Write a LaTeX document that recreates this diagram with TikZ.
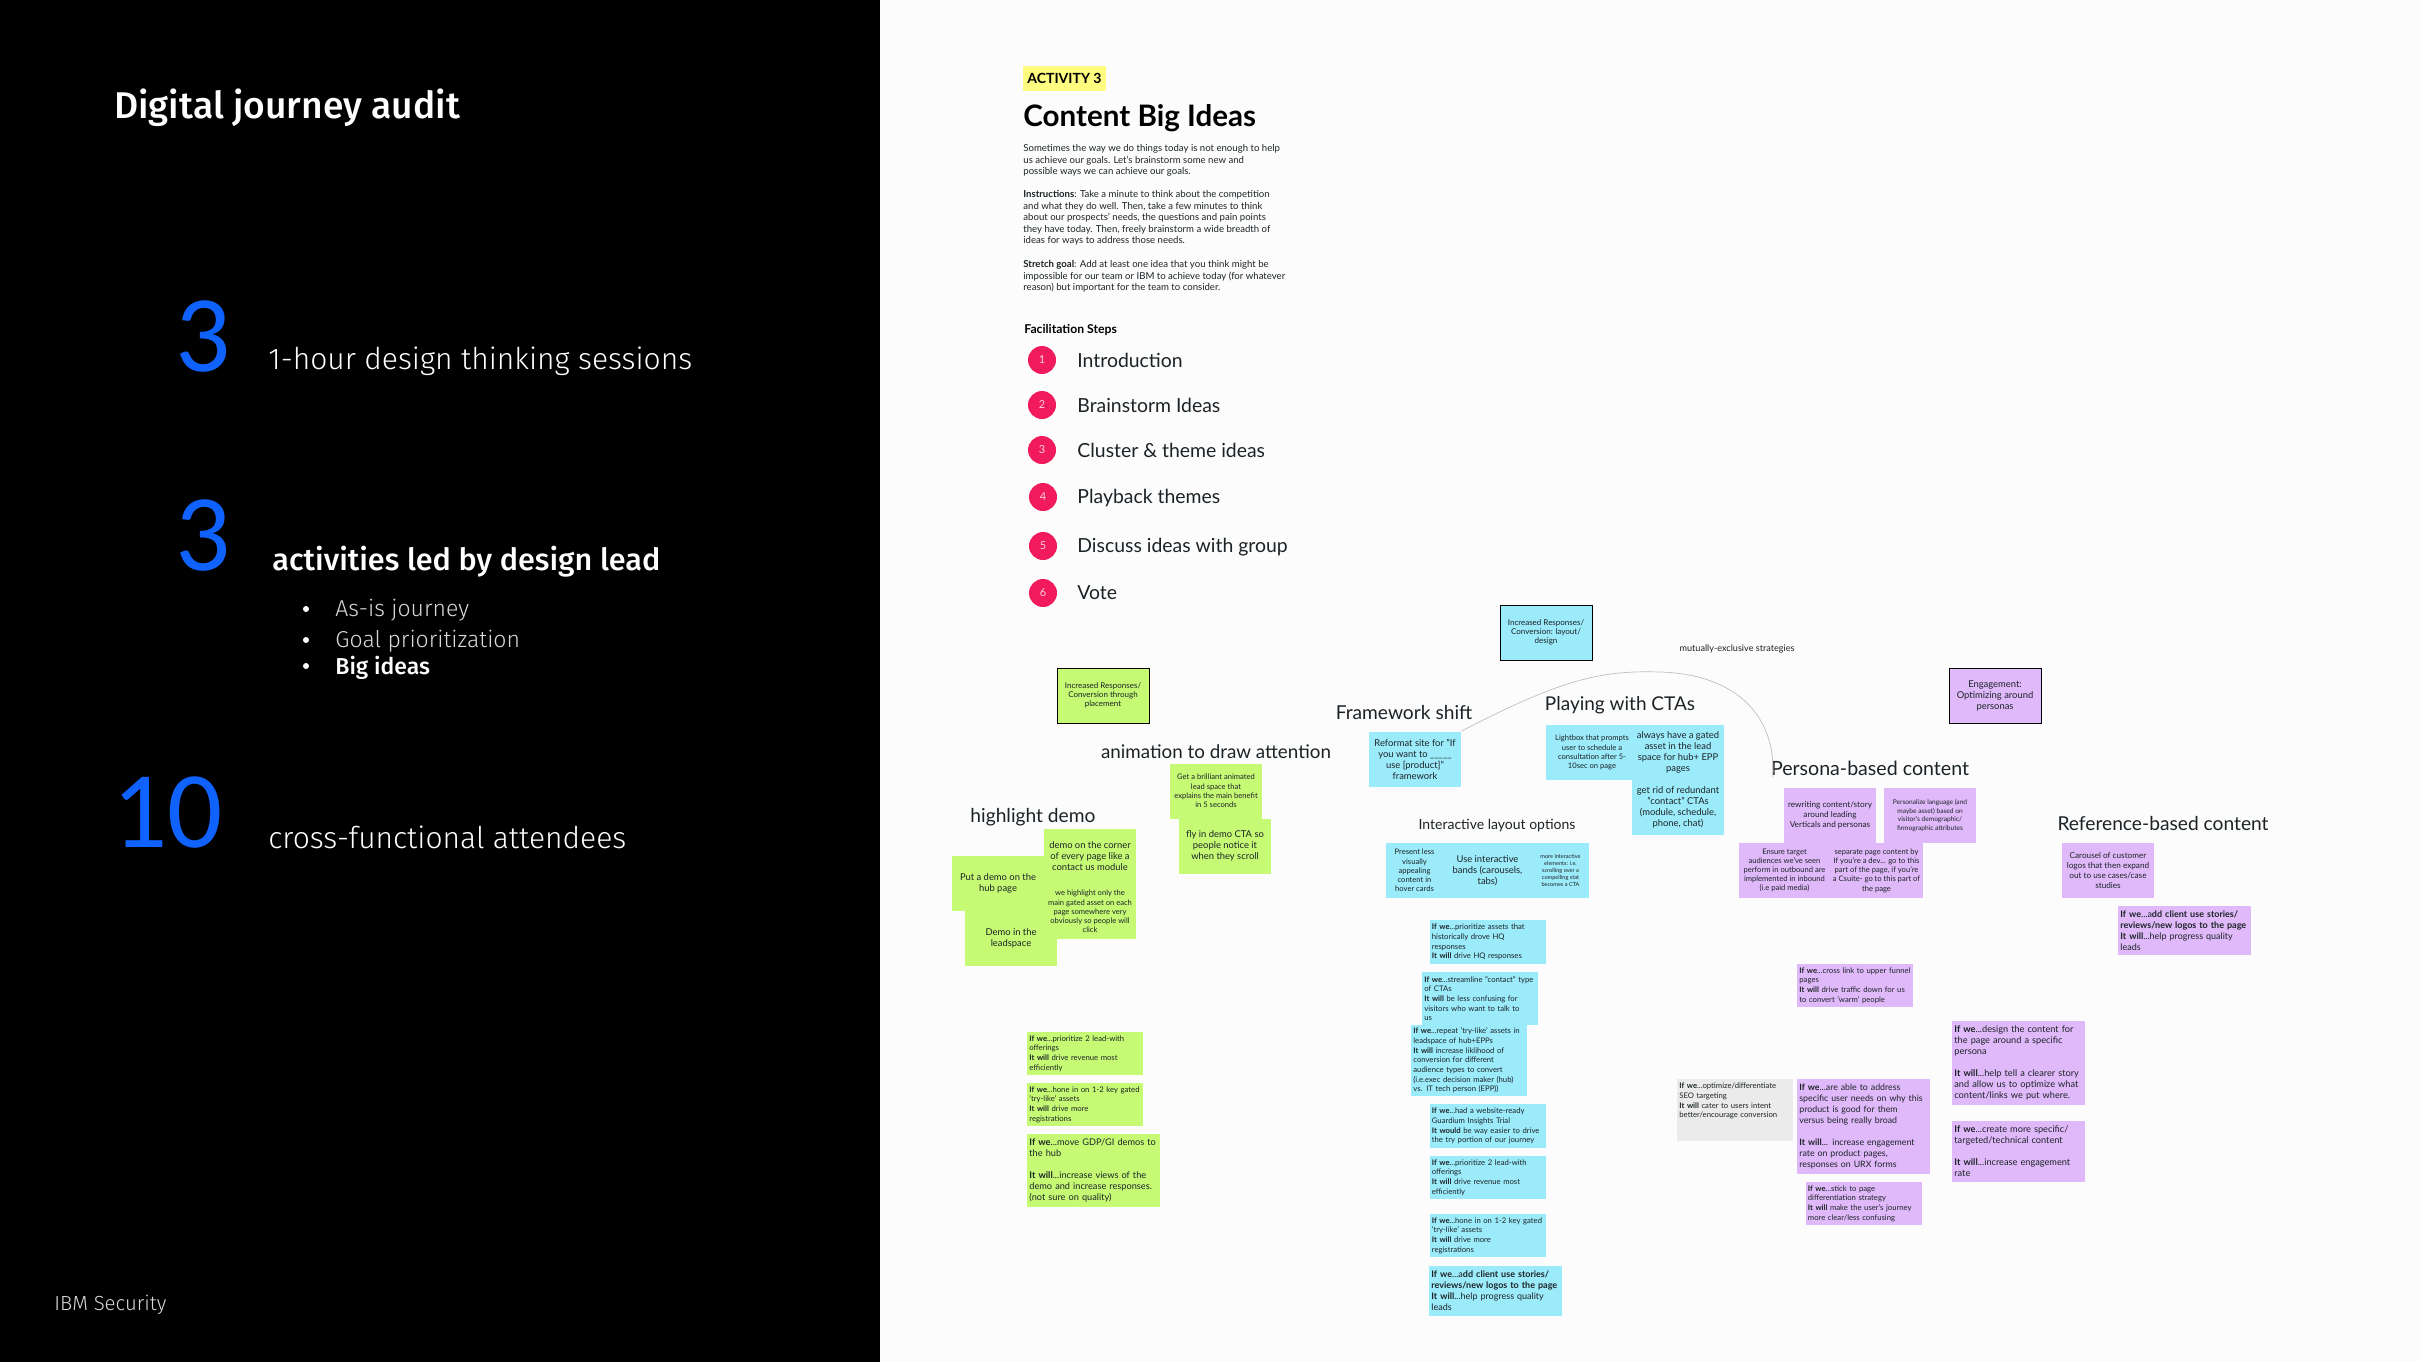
\documentclass[tikz,border=0pt]{standalone}
\usepackage{fontspec}
\setmainfont{Lato}
\newfontfamily\plexlight{Fira Sans Light}
\newfontfamily\plexbold{Fira Sans Medium}
\newfontfamily\digitfont{Carlito}
\usetikzlibrary{positioning}

\definecolor{pagebg}{HTML}{FCFCFC}
\definecolor{inkdark}{HTML}{1C2326}
\definecolor{notegreen}{HTML}{C6FA75}
\definecolor{noteblue}{HTML}{9CEBFB}
\definecolor{notepurple}{HTML}{E0B9FA}
\definecolor{notegrey}{HTML}{EBEBEB}
\definecolor{tagyellow}{HTML}{FFFD80}
\definecolor{steppink}{HTML}{F01A5C}
\definecolor{ibmblue}{HTML}{0F62FE}

\newcommand{\stickyfont}{\fontsize{4.7}{5.5}\selectfont}
\newcommand{\stickysmall}{\fontsize{3.8}{4.6}\selectfont}
\newcommand{\stickytiny}{\fontsize{2.8}{3.4}\selectfont}
\newcommand{\ifsmallfont}{\fontsize{3.85}{4.85}\selectfont}
\newcommand{\ifbigfont}{\fontsize{4.6}{5.5}\selectfont}

\tikzset{
  sticky/.style={rectangle, inner sep=0pt, minimum width=46pt, minimum height=27.5pt, align=center, text=inkdark, font=\stickyfont},
  headnote/.style={sticky, font=\fontsize{4}{4.6}\selectfont, draw=black, line width=0.5pt},
  ifsmall/.style={rectangle, inner xsep=1.2pt, inner ysep=0pt, text width=55.6pt, minimum height=21.5pt, align=left, text=inkdark, font=\ifsmallfont},
  ifbig/.style={ifsmall, text width=64.1pt, font=\ifbigfont},
  themelabel/.style={inner sep=0pt, text=inkdark, font=\fontsize{9.4}{11}\selectfont},
  stepdot/.style={circle, fill=steppink, minimum size=14pt, inner sep=0pt, text=white!80!steppink, font=\fontsize{5.5}{6}\selectfont},
  steptext/.style={anchor=west, inner sep=0pt, text=inkdark, font=\fontsize{9.7}{11}\selectfont},
  bigdigit/.style={anchor=base west, inner sep=0pt, text=ibmblue, font=\digitfont\fontsize{54.5}{55}\selectfont},
  leftlight/.style={anchor=base west, inner sep=0pt, text=white, font=\plexlight\fontsize{15}{17}\selectfont},
  leftbold/.style={anchor=base west, inner sep=0pt, text=white, font=\plexbold\fontsize{15.3}{17}\selectfont},
  subitem/.style={anchor=base west, inner sep=0pt, text=white!85!black, font=\plexlight\fontsize{11.5}{13}\selectfont},
  bulletdot/.style={circle, fill=white, minimum size=3pt, inner sep=0pt},
  bodytext/.style={anchor=north west, inner sep=0pt, align=left, text=inkdark, font=\fontsize{4.8}{5.8}\selectfont}
}

\begin{document}
\begin{tikzpicture}[x=0.5pt, y=-0.5pt, node distance=27.5pt]
\useasboundingbox (0,0) rectangle (2420,1362);
\fill[black] (0,0) rectangle (880,1362);
\fill[pagebg] (880,0) rectangle (2420,1362);

% left panel
\node (audit) [anchor=base west, inner sep=0pt, text=white, font=\plexbold\fontsize{18.6}{20}\selectfont] at (114,118) {Digital journey audit};
\node (numA) [bigdigit] at (175,371) {3};
\node (sessions) [leftlight] at (268,369) {1-hour design thinking sessions};
\node (numB) [bigdigit] at (175,570) {3};
\node (activities) [leftbold] at (272,570) {activities led by design lead};
\node (dotA) [bulletdot] at (306,609) {};
\node (asis) [subitem] at (335,616) {As-is journey};
\node (dotB) [bulletdot] at (306,640) {};
\node (goal) [subitem] at (335,647) {Goal prioritization};
\node (dotC) [bulletdot] at (306,666) {};
\node (bigideas) [subitem, text=white, font=\plexbold\fontsize{11.5}{13}\selectfont] at (335,674) {Big ideas};
\node (numC) [bigdigit] at (112,847) {10};
\node (attendees) [leftlight] at (268,848) {cross-functional attendees};
\node (ibmsec) [anchor=base west, inner sep=0pt, text=white!85!black, font=\plexlight\fontsize{10.2}{12}\selectfont] at (54,1310) {IBM Security};

% instructions
\node (tag) [rectangle, fill=tagyellow, minimum width=41.5pt, minimum height=12.5pt, inner sep=0pt, text=black, font=\bfseries\fontsize{7}{8}\selectfont] at (1064.5,78.5) {ACTIVITY 3};
\node (title) [anchor=west, inner sep=0pt, text=black, font=\bfseries\fontsize{14.8}{16}\selectfont] at (1023,118) {Content Big Ideas};
\node (intro) [bodytext] at (1023,144) {Sometimes the way we do things today is not enough to help\\us achieve our goals. Let's brainstorm some new and\\possible ways we can achieve our goals.};
\node (howto) [bodytext] at (1023,190) {\textbf{Instructions}: Take a minute to think about the competition\\and what they do well. Then, take a few minutes to think\\about our prospects' needs, the questions and pain points\\they have today. Then, freely brainstorm a wide breadth of\\ideas for ways to address those needs.};
\node (stretch) [bodytext] at (1023,260) {\textbf{Stretch goal}: Add at least one idea that you think might be\\impossible for our team or IBM to achieve today (for whatever\\reason) but important for the team to consider.};
\node (facil) [anchor=west, inner sep=0pt, text=black, font=\bfseries\fontsize{6.1}{7}\selectfont] at (1024,330) {Facilitation Steps};
\node (dotI) [stepdot] at (1042,360) {1};
\node (dotII) [stepdot] at (1042,405) {2};
\node (dotIII) [stepdot] at (1042,450) {3};
\node (dotIV) [stepdot] at (1043,497) {4};
\node (dotV) [stepdot] at (1043,546) {5};
\node (dotVI) [stepdot] at (1043,593) {6};
\node (stepI) [steptext] at (1077,360) {Introduction};
\node (stepII) [steptext] at (1077,405) {Brainstorm Ideas};
\node (stepIII) [steptext] at (1077,450) {Cluster \& theme ideas};
\node (stepIV) [steptext] at (1077,498) {Playback themes};
\node (stepV) [steptext] at (1077,547) {Discuss ideas with group};
\node (stepVI) [steptext] at (1077,593) {Vote};

% green cluster
\node (placement) [headnote, fill=notegreen] at (1103,695.5) {Increased Responses/\\Conversion through\\placement};
\node (animlabel) [themelabel] at (1216,752) {animation to draw attention};
\node (brilliant) [sticky, fill=notegreen, font=\stickysmall] at (1216,791) {Get a brilliant animated\\lead space that\\explains the main benefit\\in 5 seconds};
\node (flyin) [sticky, fill=notegreen, below of=brilliant, xshift=4.5pt] {fly in demo CTA so\\people notice it\\when they scroll};
\node (highlabel) [themelabel, font=\fontsize{9.6}{11}\selectfont] at (1033,817) {highlight demo};
\node (hubdemo) [sticky, fill=notegreen] at (998,883.5) {Put a demo on the\\hub page};
\node (leaddemo) [sticky, fill=notegreen, below of=hubdemo, xshift=6.5pt] {Demo in the\\leadspace};
\node (corner) [sticky, fill=notegreen] at (1090,856.5) {demo on the corner\\of every page like a\\contact us module};
\node (gated) [sticky, fill=notegreen, font=\stickysmall, below of=corner] {we highlight only the\\main gated asset on each\\page somewhere very\\obviously so people will\\click};
\node (ifgA) [ifsmall, fill=notegreen] at (1085,1053.5) {\textbf{If we}...prioritize 2 lead-with\\offerings\\\textbf{It will} drive revenue most\\efficiently};
\node (ifgB) [ifsmall, fill=notegreen, node distance=25.5pt, below of=ifgA] {\textbf{If we}...hone in on 1-2 key gated\\'try-like' assets\\\textbf{It will} drive more\\registrations};
\node (ifgC) [ifbig, fill=notegreen, minimum height=36.5pt] at (1093.5,1170.5) {\textbf{If we}...move GDP/GI demos to\\the hub\\[5.5pt]\textbf{It will}...increase views of the\\demo and increase responses.\\(not sure on quality)};

% blue cluster
\node (layoutbox) [headnote, fill=noteblue] at (1546,632.5) {Increased Responses/\\Conversion: layout/\\design};
\node (mutual) [inner sep=0pt, text=inkdark, font=\fontsize{4.55}{5}\selectfont] at (1737,649) {mutually-exclusive strategies};
\node (framelabel) [themelabel, font=\fontsize{9.6}{11}\selectfont] at (1404,712) {Framework shift};
\node (reformat) [sticky, fill=noteblue] at (1415,759) {Reformat site for "If\\you want to \_\_\_\_\_\\use [product]"\\framework};
\node (ctalabel) [themelabel, font=\fontsize{9.5}{11}\selectfont] at (1620,705) {Playing with CTAs};
\node (lightbox) [sticky, fill=noteblue, font=\stickysmall] at (1592,752.5) {Lightbox that prompts\\user to schedule a\\consultation after 5-\\10sec on page};
\node (alwaysgated) [sticky, fill=noteblue] at (1678,752.5) {always have a gated\\asset in the lead\\space for hub+ EPP\\pages};
\node (getrid) [sticky, fill=noteblue, below of=alwaysgated] {get rid of redundant\\"contact" CTAs\\(module, schedule,\\phone, chat)};
\node (interlabel) [themelabel, font=\fontsize{7}{8}\selectfont] at (1497,826) {Interactive layout options};
\node (present) [sticky, fill=noteblue, minimum width=28.5pt, font=\stickysmall] at (1414.5,870.5) {Present less\\visually\\appealing\\content in\\hover cards};
\node (bands) [sticky, fill=noteblue, minimum width=44.5pt] at (1487.5,870.5) {Use interactive\\bands (carousels,\\tabs)};
\node (moreinter) [sticky, fill=noteblue, minimum width=28.5pt, font=\stickytiny] at (1560.5,870.5) {more interactive\\elements: i.e.\\scrolling over a\\compelling stat\\becomes a CTA};
\node (ifbA) [ifsmall, fill=noteblue, minimum height=22pt] at (1487.5,942) {\textbf{If we}...prioritize assets that\\historically drove HQ\\responses\\\textbf{It will} drive HQ responses};
\node (ifbB) [ifsmall, fill=noteblue, minimum height=26.5pt] at (1480,998.5) {\textbf{If we}...streamline "contact" type\\of CTAs\\\textbf{It will} be less confusing for\\visitors who want to talk to\\us};
\node (ifbC) [ifsmall, fill=noteblue, minimum height=35.5pt] at (1469,1060.5) {\textbf{If we}...repeat 'try-like' assets in\\leadspace of hub+EPPs\\\textbf{It will} increase liklihood of\\conversion for different\\audience types to convert\\(i.e.exec decision maker (hub)\\vs. IT tech person (EPP))};
\node (ifbD) [ifsmall, fill=noteblue, minimum height=22pt] at (1487.5,1126) {\textbf{If we}...had a website-ready\\Guardium Insights Trial\\\textbf{It would} be way easier to drive\\the try portion of our journey};
\node (ifbE) [ifsmall, fill=noteblue] at (1487.5,1177.5) {\textbf{If we}...prioritize 2 lead-with\\offerings\\\textbf{It will} drive revenue most\\efficiently};
\node (ifbF) [ifsmall, fill=noteblue, node distance=29pt, below of=ifbE] {\textbf{If we}...hone in on 1-2 key gated\\'try-like' assets\\\textbf{It will} drive more\\registrations};
\node (ifbG) [ifbig, fill=noteblue, minimum height=25pt, font=\fontsize{4.5}{5.5}\selectfont] at (1495.5,1291) {\textbf{If we}...a\textbf{dd client use stories/}\\\textbf{reviews/new logos to the page}\\\textbf{It will}...help progress quality\\leads};

% purple cluster
\node (engage) [headnote, fill=notepurple, font=\stickyfont] at (1995,695.5) {Engagement:\\Optimizing around\\personas};
\node (personalabel) [themelabel, font=\fontsize{9.8}{11}\selectfont] at (1870,768) {Persona-based content};
\node (rewriting) [sticky, fill=notepurple, font=\fontsize{4.1}{5}\selectfont] at (1830,815.5) {rewriting content/story\\around leading\\Verticals and personas};
\node (personalize) [sticky, fill=notepurple, font=\fontsize{3.3}{4.4}\selectfont] at (1930,815.5) {Personalize language (and\\maybe asset) based on\\visitor's demographic/\\firmographic attributes};
\node (ensure) [sticky, fill=notepurple, font=\stickysmall] at (1784.5,870.5) {Ensure target\\audiences we've seen\\perform in outbound are\\implemented in inbound\\(i.e paid media)};
\node (separate) [sticky, fill=notepurple, font=\stickysmall] at (1876.5,870.5) {separate page content by\\If you're a dev... go to this\\part of the page, if you're\\a Csuite- go to this part of\\the page};
\node (reflabel) [themelabel, font=\fontsize{9.6}{11}\selectfont] at (2163,823) {Reference-based content};
\node (carousel) [sticky, fill=notepurple, font=\fontsize{4.1}{5}\selectfont] at (2108,870.5) {Carousel of customer\\logos that then expand\\out to use cases/case\\studies};
\node (ifpA) [ifbig, fill=notepurple, minimum height=24.5pt, font=\fontsize{4.5}{5.5}\selectfont] at (2184.5,930.5) {\textbf{If we}...a\textbf{dd client use stories/}\\\textbf{reviews/new logos to the page}\\\textbf{It will}...help progress quality\\leads};
\node (ifpB) [ifsmall, fill=notepurple] at (1855,985.5) {\textbf{If we}...cross link to upper funnel\\pages\\\textbf{It will} drive traffic down for us\\to convert 'warm' people};
\node (seo) [ifsmall, fill=notegrey, minimum height=31pt] at (1735,1110) {\textbf{If we}...optimize/differentiate\\SEO targeting\\\textbf{It will} cater to users intent\\better/encourage conversion\\~\\~};
\node (ifpC) [ifbig, fill=notepurple, minimum height=47.5pt, font=\fontsize{4.4}{5.5}\selectfont] at (1863.5,1126.5) {\textbf{If we}...are able to address\\specific user needs on why this\\product is good for them\\versus being really broad\\[5.5pt]\textbf{It will}... increase engagement\\rate on product pages,\\responses on URX forms};
\node (ifpD) [ifsmall, fill=notepurple] at (1863.5,1203.5) {\textbf{If we}...stick to page\\differentiation strategy\\\textbf{It will} make the user's journey\\more clear/less confusing};
\node (ifpE) [ifbig, fill=notepurple, minimum height=42pt] at (2018.5,1063) {\textbf{If we}...design the content  for\\the page around a specific\\persona\\[5.5pt]\textbf{It will}...help tell a clearer story\\and allow us to optimize what\\content/links we put where.};
\node (ifpF) [ifbig, fill=notepurple, minimum height=30.5pt] at (2018.5,1151.5) {\textbf{If we}...create more specific/\\targeted/technical content\\[5.5pt]\textbf{It will}...increase engagement\\rate};

% curve between the two strategies
\coordinate (curveend) at (1773,777);
\draw[black!25, line width=0.35pt] (reformat.north east) .. controls (1560,680) and (1600,670) .. (1660,672) .. controls (1730,674) and (1776,710) .. (curveend);
\end{tikzpicture}
\end{document}
